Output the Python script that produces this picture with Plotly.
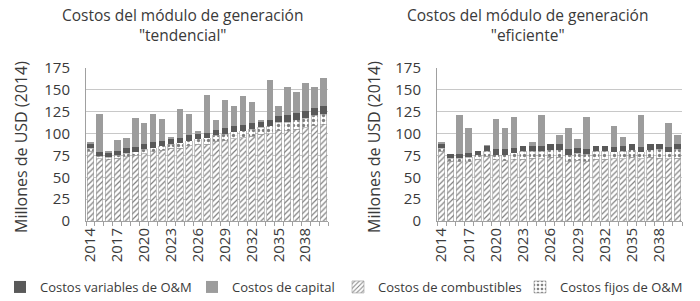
import plotly.graph_objects as go

years = [str(y) for y in range(2014, 2041)]
tick_labels = [y if (int(y) - 2014) % 3 == 0 and int(y) <= 2038 else "" for y in years]

# Escenario tendencial
tend_comb = [80, 71, 70, 72, 73.5, 75, 77, 79, 81, 83, 83.5, 86, 88, 88, 91, 92, 94, 95, 97, 99, 100, 103, 103, 105, 106.5, 109, 110]
tend_fijos = [3, 3, 3, 3, 4, 4, 5, 5, 5, 5, 6, 6, 6, 7, 7, 7, 8, 8, 8, 8, 9, 10, 10, 11, 11, 12, 12]
tend_var = [6, 5, 5, 5, 6, 6, 6, 6, 6, 6, 6, 6, 6, 6, 6, 7, 7, 7, 7, 7, 7, 7, 8, 8, 8, 8, 9]
tend_cap = [1, 43, 2, 13, 11.5, 32.5, 24, 32, 24.5, 1, 32.5, 24, 3, 43, 12, 32, 23, 32.5, 24, 2, 45, 11, 32, 23.5, 32.5, 24, 32]

# Escenario eficiente
efic_comb = [80, 68.6, 68, 68, 70.5, 74, 70, 69, 70, 70.5, 71.5, 71, 72.7, 72.7, 68, 69.5, 68.5, 70.5, 70.5, 71, 71, 72.7, 71, 72.7, 72, 71, 72]
efic_fijos = [3, 3, 4, 5, 5, 6, 6, 7, 8, 9, 8, 9, 9, 9, 8, 8, 8, 9, 9, 8, 9, 9, 8, 9, 10, 8, 10]
efic_var = [6, 5, 5, 5, 5, 6, 6, 6, 6, 6, 6, 6, 6, 6, 6, 6, 6, 6, 6, 6, 6, 6, 6, 6, 6, 6, 6]
efic_cap = [1, 0, 44, 28, 0, 0.5, 35, 24.5, 35, 0, 5, 35.5, 0, 11, 24.5, 10.5, 36.5, 0, 0, 24, 10, 0, 36.5, 0, 0, 27, 10.5]

FONT = "Open Sans"
TXT = "#3a3a3a"
C_VAR = "#595959"
C_CAP = "#9c9c9c"

W, H = 700, 301
ML, MR, MT, MB = 40, 10, 10, 40
PW, PH = W - ML - MR, H - MT - MB

def px(x):
    return (x - ML) / PW

def py(y):
    return 1 - (y - MT) / PH

fig = go.Figure()

def add_set(comb, fijos, var, cap, xa, ya, show):
    fig.add_trace(go.Bar(
        x=years, y=comb, name="Costos de combustibles", xaxis=xa, yaxis=ya,
        marker=dict(color="white", line=dict(color="#9a9a9a", width=0.6),
                    pattern=dict(shape="/", fgcolor="#000000", bgcolor="white", size=4, solidity=0.3)),
        showlegend=show, legend="legend3"))
    fig.add_trace(go.Bar(
        x=years, y=fijos, name="Costos fijos de O&M", xaxis=xa, yaxis=ya,
        marker=dict(color="white", line=dict(color="#9a9a9a", width=0.6),
                    pattern=dict(shape=".", fgcolor="#000000", bgcolor="white", size=5, solidity=0.35)),
        showlegend=show, legend="legend4"))
    fig.add_trace(go.Bar(
        x=years, y=var, name="Costos variables de O&M", xaxis=xa, yaxis=ya,
        marker=dict(color=C_VAR, line=dict(width=0)),
        showlegend=show, legend="legend"))
    fig.add_trace(go.Bar(
        x=years, y=cap, name="Costos de capital", xaxis=xa, yaxis=ya,
        marker=dict(color=C_CAP, line=dict(width=0)),
        showlegend=show, legend="legend2"))

add_set(tend_comb, tend_fijos, tend_var, tend_cap, "x", "y", True)
add_set(efic_comb, efic_fijos, efic_var, efic_cap, "x2", "y2", False)

y_dom = [py(221), py(68)]

xcommon = dict(type="category", tickvals=years, ticktext=tick_labels, tickangle=-90,
               tickson="boundaries", ticks="outside", ticklen=4, tickcolor="#a0a0a0",
               showline=True, linecolor="#a0a0a0", linewidth=1, showgrid=False,
               tickfont=dict(family=FONT, size=15, color=TXT), automargin=False)
ycommon = dict(range=[0, 175], tickvals=[0, 25, 50, 75, 100, 125, 150, 175],
               showgrid=True, gridcolor="#c8c8c8", gridwidth=1, zeroline=False,
               showline=True, linecolor="#a0a0a0", linewidth=1, automargin=False,
               ticks="", tickfont=dict(family=FONT, size=15, color=TXT), ticklabelstandoff=12)

def leg(text_x):
    return dict(orientation="h", xref="container", yref="container",
                x=max(text_x - 40, 0) / W, y=1 - 287 / H, xanchor="left", yanchor="middle",
                font=dict(family=FONT, size=13, color=TXT), itemwidth=30,
                bgcolor="rgba(0,0,0,0)")

fig.update_layout(
    width=W, height=H, barmode="stack", bargap=0.28,
    paper_bgcolor="white", plot_bgcolor="white",
    margin=dict(l=ML, r=MR, t=MT, b=MB),
    font=dict(family=FONT, color=TXT),
    xaxis=dict(domain=[px(86), px(328)], anchor="y", **xcommon),
    yaxis=dict(domain=y_dom, anchor="x", **ycommon),
    xaxis2=dict(domain=[px(437), px(682)], anchor="y2", **xcommon),
    yaxis2=dict(domain=y_dom, anchor="x2", **ycommon),
    legend=leg(33), legend2=leg(232), legend3=leg(378), legend4=leg(560),
    showlegend=True,
    annotations=[
        dict(text="Costos del módulo de generación<br>\"tendencial\"", x=px(182), y=py(2),
             xref="paper", yref="paper", xanchor="center", yanchor="top", showarrow=False,
             font=dict(family=FONT, size=15.5, color=TXT)),
        dict(text="Costos del módulo de generación<br>\"eficiente\"", x=px(527), y=py(2),
             xref="paper", yref="paper", xanchor="center", yanchor="top", showarrow=False,
             font=dict(family=FONT, size=15.5, color=TXT)),
        dict(text="Millones de USD (2014)", x=px(21), y=py(147), textangle=-90,
             xref="paper", yref="paper", xanchor="center", yanchor="middle", showarrow=False,
             font=dict(family=FONT, size=16, color=TXT)),
        dict(text="Millones de USD (2014)", x=px(374), y=py(147), textangle=-90,
             xref="paper", yref="paper", xanchor="center", yanchor="middle", showarrow=False,
             font=dict(family=FONT, size=16, color=TXT)),
    ],
)

fig.write_html("out.html", config={"displayModeBar": False},
               post_script="document.body.style.margin='0';")
